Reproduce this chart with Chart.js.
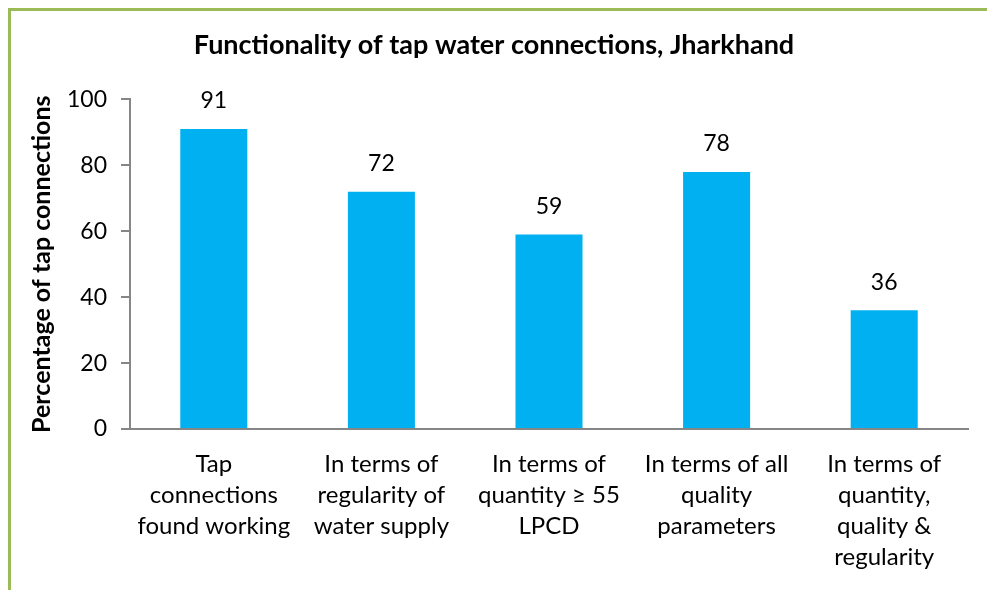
<!DOCTYPE html>
<html>
<head>
<meta charset="utf-8">
<title>Functionality of tap water connections, Jharkhand</title>
<script src="https://cdn.jsdelivr.net/npm/chart.js@4"></script>
<style>
  html, body { margin: 0; padding: 0; background: #fff; }
  #wrap { position: relative; width: 987px; height: 590px; overflow: hidden; }
  #frame {
    position: absolute; left: 8px; top: 8px; width: 1000px; height: 600px;
    border-left: 3px solid #9BBB59; border-top: 3px solid #9BBB59;
    box-sizing: border-box;
  }
  canvas { position: absolute; left: 0; top: 0; }
</style>
</head>
<body>
<div id="wrap">
  <div id="frame"></div>
  <canvas id="chart" width="987" height="590"></canvas>
</div>
<script>
// Categories (multi-line labels) and values
const categories = [
  ['Tap', 'connections', 'found working'],
  ['In terms of', 'regularity of', 'water supply'],
  ['In terms of', 'quantity \u2265 55', 'LPCD'],
  ['In terms of all', 'quality', 'parameters'],
  ['In terms of', 'quantity,', 'quality &', 'regularity']
];
const values = [91, 72, 59, 78, 36];

// Y axis ticks
const yTicks = [0, 20, 40, 60, 80, 100];

const fontFamily = 'Lato, "Open Sans", sans-serif';
const axisGray = '#868686';

// Draw the value labels above each bar
const valueLabels = {
  id: 'valueLabels',
  afterDatasetsDraw(chart) {
    const ctx = chart.ctx;
    const meta = chart.getDatasetMeta(0);
    ctx.save();
    ctx.font = '23px ' + fontFamily;
    ctx.fillStyle = '#000';
    ctx.textAlign = 'center';
    ctx.textBaseline = 'middle';
    meta.data.forEach((bar, i) => {
      ctx.fillText(String(values[i]), bar.x, bar.y - 28);
    });
    ctx.restore();
  }
};

const ctx = document.getElementById('chart').getContext('2d');

const chart = new Chart(ctx, {
  type: 'bar',
  data: {
    labels: categories,
    datasets: [{
      data: values,
      backgroundColor: '#00B0F0',
      borderWidth: 0,
      barPercentage: 0.4,
      categoryPercentage: 1.0
    }]
  },
  options: {
    responsive: false,
    animation: false,
    layout: {
      padding: { left: 20, right: 19, top: 0, bottom: 5 }
    },
    plugins: {
      legend: { display: false },
      tooltip: { enabled: false },
      title: {
        display: true,
        text: 'Functionality of tap water connections, Jharkhand',
        color: '#000',
        font: { family: fontFamily, size: 27, weight: 'bold', lineHeight: 1.2 },
        padding: { top: 29, bottom: 38 }
      }
    },
    scales: {
      x: {
        grid: { display: false, tickLength: 8 },
        border: { color: axisGray, width: 2 },
        ticks: {
          color: '#000',
          maxRotation: 0,
          autoSkip: false,
          padding: 12,
          font: { family: fontFamily, size: 24, lineHeight: '31px' }
        }
      },
      y: {
        min: 0,
        max: 100,
        afterBuildTicks(scale) {
          scale.ticks = yTicks.map(v => ({ value: v }));
        },
        afterFit(scale) {
          scale.width = 110;
        },
        grid: {
          drawOnChartArea: false,
          drawTicks: true,
          tickLength: 9,
          color: axisGray,
          lineWidth: 2
        },
        border: { color: axisGray, width: 2 },
        ticks: {
          color: '#000',
          padding: 14,
          font: { family: fontFamily, size: 23 }
        },
        title: {
          display: true,
          text: 'Percentage of tap connections',
          color: '#000',
          font: { family: fontFamily, size: 25, weight: 'bold', lineHeight: 1.2 },
          padding: { top: 7, bottom: 0 }
        }
      }
    }
  },
  plugins: [valueLabels]
});
</script>
</body>
</html>
